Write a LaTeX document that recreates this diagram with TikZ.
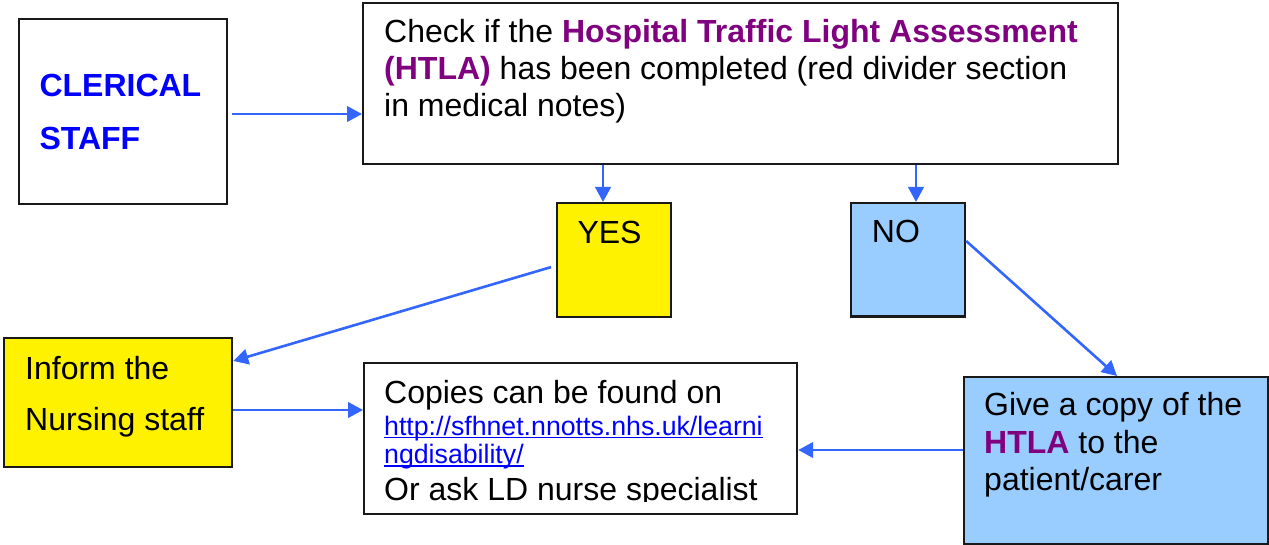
\documentclass[tikz,border=0pt]{standalone}
\usepackage{fontspec}
\setmainfont{Liberation Sans}
\usetikzlibrary{arrows.meta,calc}
\definecolor{arrowblue}{RGB}{51,102,255}
\definecolor{nofill}{RGB}{153,204,255}
\definecolor{htlapurple}{RGB}{128,0,128}
\definecolor{clerblue}{RGB}{0,0,255}
\definecolor{linkblue}{RGB}{0,0,255}
\begin{document}
\begin{tikzpicture}[x=1pt,y=-1pt,
  box/.style={draw=black!90, line width=2.2pt, rectangle, inner sep=0pt, anchor=north west},
  txt/.style={anchor=base west, inner sep=0pt, font=\fontsize{32}{38}\selectfont},
  urltxt/.style={anchor=base west, inner sep=0pt, text=linkblue, font=\fontsize{26.7}{31}\selectfont},
  arr/.style={draw=arrowblue, line width=2.6pt, -{Triangle[length=15pt,width=15.5pt]}}]
\useasboundingbox (0,0) rectangle (1269,545);
% boxes
\node[box, minimum width=208pt, minimum height=185pt] (clerical) at (18,18) {};
\node[box, minimum width=755pt, minimum height=161pt] (check) at (362,2) {};
\node[box, fill=yellow, minimum width=113.5pt, minimum height=114pt] (yes) at (556,202) {};
\node[box, fill=nofill, minimum width=114pt, minimum height=113.5pt] (no) at (850,202) {};
\node[box, fill=yellow, minimum width=228pt, minimum height=129pt] (inform) at (3,337) {};
\node[box, minimum width=433pt, minimum height=151pt] (copies) at (363,362) {};
\node[box, fill=nofill, minimum width=304pt, minimum height=167pt] (give) at (963,376) {};
% texts
\node[txt, text=clerblue, font=\fontsize{32}{38}\selectfont\bfseries] (t1) at (39.3,96.7) {CLERICAL};
\node[txt, text=clerblue, font=\fontsize{32}{38}\selectfont\bfseries] (t2) at (39.3,149.3) {STAFF};
\node[txt] (c1) at (384,43) {Check if the \textbf{\color{htlapurple}Hospital Traffic Light Assessment}};
\node[txt] (c2) at (384,79.3) {\textbf{\color{htlapurple}(HTLA)} has been completed (red divider section};
\node[txt] (c3) at (384,116.7) {in medical notes)};
\node[txt] (ty) at (577.3,243.3) {YES};
\node[txt] (tn) at (871.7,242.7) {NO};
\node[txt] (i1) at (25,379) {Inform the};
\node[txt] (i2) at (25,430) {Nursing staff};
\node[txt] (p1) at (384,403.3) {Copies can be found on};
\node[urltxt] (u1) at (384,435) {http://sfhnet.nnotts.nhs.uk/learni};
\node[urltxt] (u2) at (384,463.3) {ngdisability/};
\draw[linkblue, line width=1.3pt] ([yshift=-2.6pt]u1.base west) -- ([yshift=-2.6pt]u1.base east);
\draw[linkblue, line width=1.3pt] ([yshift=-2.6pt]u2.base west) -- ([yshift=-2.6pt]u2.base east);
\begin{scope}
\clip (363,362) rectangle (796,501.5);
\node[txt] (p2) at (384,500) {Or ask LD nurse specialist};
\end{scope}
\node[txt] (g1) at (984,415) {Give a copy of the};
\node[txt] (g2) at (984,453.3) {\textbf{\color{htlapurple}HTLA} to the};
\node[txt] (g3) at (984,490) {patient/carer};
% connectors
\draw[arr] ($(clerical.east |- 0,114)+(4,0)$) -- (check.west |- 0,114);
\draw[arr] (check.south -| 603,0) -- (yes.north -| 603,0);
\draw[arr] (check.south -| 916,0) -- (no.north -| 916,0);
\draw[arr] ($(yes.west)+(-5,7)$) -- (inform.east |- 0,361);
\draw[arr] (inform.east |- 0,410) -- (copies.west |- 0,410);
\draw[arr] (no.east |- 0,241) -- (give.north -| 1117,0);
\draw[arr] (give.west |- 0,450) -- (copies.east |- 0,450);
\end{tikzpicture}
\end{document}
